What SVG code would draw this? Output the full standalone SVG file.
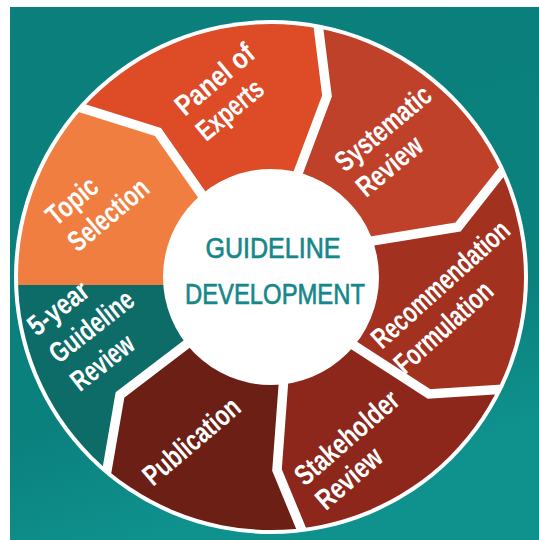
<svg xmlns="http://www.w3.org/2000/svg" width="539" height="540" viewBox="0 0 539 540">
<defs>
<style>
.lbl{font-family:"Liberation Sans",Arial,sans-serif;font-weight:bold;font-size:29px;fill:#ffffff}
.ctr{font-family:"Liberation Sans",Arial,sans-serif;font-size:30px;fill:#16878a;stroke:#16878a;stroke-width:0.7px;text-anchor:middle}
.sep{fill:none;stroke:#ffffff;stroke-width:9.5;stroke-linejoin:miter}
</style>
<clipPath id="wheel"><circle cx="271" cy="277" r="253"/></clipPath>
<clipPath id="wheelSep"><circle cx="271" cy="277" r="256"/></clipPath>
<linearGradient id="bg" x1="0" y1="0" x2="0.3" y2="1">
<stop offset="0" stop-color="#0a7f7c"/>
<stop offset="0.75" stop-color="#0b817e"/>
<stop offset="1" stop-color="#0f928e"/>
</linearGradient>
</defs>
<rect x="0" y="0" width="539" height="540" fill="#ffffff"/>
<rect x="10" y="7" width="529" height="533" fill="url(#bg)"/>
<circle cx="271" cy="277" r="257" fill="#ffffff"/>
<g id="segments" clip-path="url(#wheel)">
<g id="topic-selection"><path d="M271 277 L200 285 L-60 285 L-56 152 L18 88 L158 132 L221 222 Z" fill="#f07e40"/></g>
<g id="panel-of-experts"><path d="M271 277 L221 222 L158 132 L18 88 L157 -54 L315 0 L327 96 L289 197 Z" fill="#dd4b27"/></g>
<g id="systematic-review"><path d="M271 277 L289 197 L327 96 L315 0 L486 1 L548 113 L458 227 L341 246 Z" fill="#c0412a"/></g>
<g id="recommendation-formulation"><path d="M271 277 L341 246 L458 227 L548 113 L621 283 L581 384 L429 394 L327 328 Z" fill="#a3311f"/></g>
<g id="stakeholder-review"><path d="M271 277 L327 328 L429 394 L581 384 L477 560 L329 596 L277 470 L285 362 Z" fill="#8d271b"/></g>
<g id="publication"><path d="M271 277 L285 362 L277 470 L329 596 L175 613 L94 545 L120 395 L213 324 Z" fill="#6b1f15"/></g>
<g id="five-year-review"><path d="M271 277 L213 324 L120 395 L94 545 L-46 425 L-60 285 L200 285 Z" fill="#0d6c68"/></g>
</g>
<g id="separators" clip-path="url(#wheelSep)">
<polyline class="sep" points="271,277 221,222 158,132 18,88"/>
<polyline class="sep" points="271,277 289,197 327,96 315,0"/>
<polyline class="sep" points="271,277 341,246 458,227 548,113"/>
<polyline class="sep" points="271,277 327,328 429,394 581,384"/>
<polyline class="sep" points="271,277 285,362 277,470 329,596"/>
<polyline class="sep" points="271,277 213,324 120,395 94,545"/>
</g>
<g id="center">
<circle cx="271" cy="277" r="108" fill="#ffffff"/>
<text class="ctr" x="273" y="258" textLength="135" lengthAdjust="spacingAndGlyphs">GUIDELINE</text>
<text class="ctr" x="275" y="304" textLength="180" lengthAdjust="spacingAndGlyphs">DEVELOPMENT</text>
</g>
<g id="labels">
<g id="label-topic" transform="translate(56,227) rotate(-40)">
<text class="lbl" x="0" y="0" textLength="58" lengthAdjust="spacingAndGlyphs">Topic</text>
<text class="lbl" x="0" y="34" textLength="96" lengthAdjust="spacingAndGlyphs">Selection</text>
</g>
<g id="label-panel" transform="translate(185,117) rotate(-40)">
<text class="lbl" x="0" y="0" textLength="94" lengthAdjust="spacingAndGlyphs">Panel of</text>
<text class="lbl" x="0" y="33" textLength="78" lengthAdjust="spacingAndGlyphs">Experts</text>
</g>
<g id="label-systematic" transform="translate(345,173) rotate(-40)">
<text class="lbl" x="0" y="0" textLength="116" lengthAdjust="spacingAndGlyphs">Systematic</text>
<text class="lbl" x="0" y="33" textLength="77" lengthAdjust="spacingAndGlyphs">Review</text>
</g>
<g id="label-recommendation" transform="translate(382,350) rotate(-42)">
<text class="lbl" x="0" y="0" textLength="175" lengthAdjust="spacingAndGlyphs">Recommendation</text>
<text class="lbl" x="0" y="34" textLength="122" lengthAdjust="spacingAndGlyphs">Formulation</text>
</g>
<g id="label-stakeholder" transform="translate(305,487) rotate(-41)">
<text class="lbl" x="0" y="0" textLength="128" lengthAdjust="spacingAndGlyphs">Stakeholder</text>
<text class="lbl" x="0" y="32" textLength="78" lengthAdjust="spacingAndGlyphs">Review</text>
</g>
<g id="label-publication" transform="translate(153,487) rotate(-40.5)">
<text class="lbl" x="0" y="0" textLength="118" lengthAdjust="spacingAndGlyphs">Publication</text>
</g>
<g id="label-five-year" transform="translate(37,337) rotate(-38)">
<text class="lbl" x="0" y="0" textLength="69" lengthAdjust="spacingAndGlyphs">5-year</text>
<text class="lbl" x="0" y="35" textLength="99" lengthAdjust="spacingAndGlyphs">Guideline</text>
<text class="lbl" x="0" y="70" textLength="72" lengthAdjust="spacingAndGlyphs">Review</text>
</g>
</g>
</svg>
